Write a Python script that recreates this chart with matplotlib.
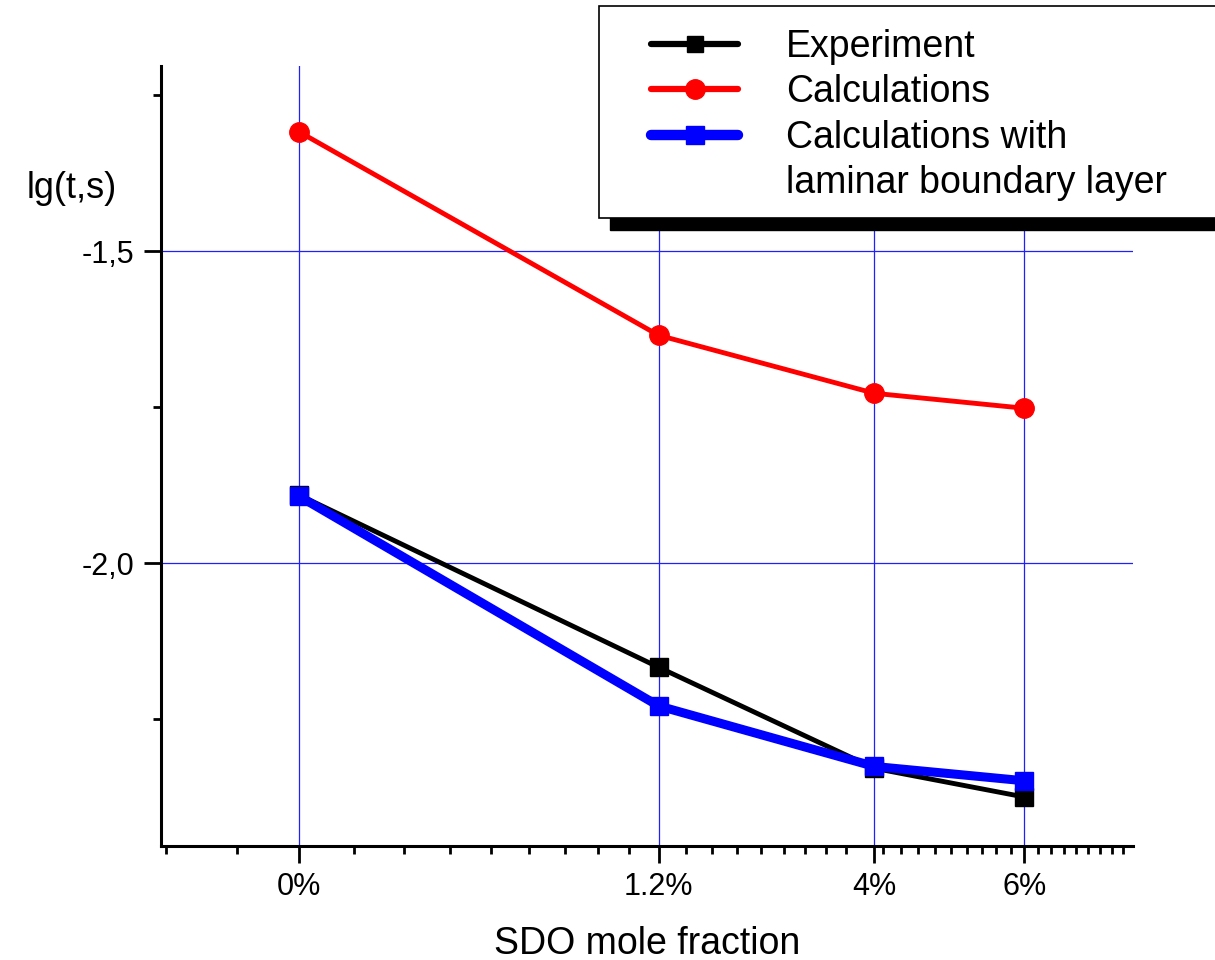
import matplotlib.pyplot as plt
import numpy as np
from matplotlib.patches import Rectangle
from matplotlib.lines import Line2D
from matplotlib.ticker import FixedLocator, NullFormatter, MultipleLocator

plt.rcParams['font.family'] = ['Liberation Sans', 'DejaVu Sans']

# categories on the x axis and their positions on the (log-like) axis
labels = ['0%', '1.2%', '4%', '6%']
x_pos = [8.5, 17.5, 27.0, 36.5]

# lg(t, s) values
experiment = [-1.891, -2.167, -2.329, -2.375]
calculations = [-1.309, -1.635, -1.728, -1.752]
laminar = [-1.893, -2.229, -2.326, -2.349]

fig = plt.figure(figsize=(12.15, 9.6), dpi=100)
ax = fig.add_axes([161/1215, 1-846/960, 972/1215, 780/960])

ax.plot(x_pos, calculations, color='red', lw=3.5, marker='o', ms=14,
        solid_capstyle='round', zorder=3)
ax.plot(x_pos, experiment, color='black', lw=3.5, marker='s', ms=13,
        solid_capstyle='round', zorder=4)
ax.plot(x_pos, laminar, color='blue', lw=6.5, marker='s', ms=13,
        solid_capstyle='round', zorder=5)

ax.set_xscale('log')
ax.set_xlim(6.44, 45.4)
ax.set_ylim(-2.4535, -1.2035)

ax.xaxis.set_major_locator(FixedLocator(x_pos))
ax.set_xticklabels(labels)
minors = np.arange(6.5, 45, 1.0)
minors = np.delete(minors, [np.abs(minors - p).argmin() for p in x_pos])
ax.xaxis.set_minor_locator(FixedLocator(minors))
ax.xaxis.set_minor_formatter(NullFormatter())

ax.yaxis.set_major_locator(MultipleLocator(0.5))
ax.yaxis.set_minor_locator(MultipleLocator(0.25))
ax.yaxis.set_major_formatter(lambda v, p: f'{v:.1f}'.replace('.', ','))

ax.grid(True, which='major', color='#2020ff', lw=0.9)
ax.set_axisbelow(True)

for s in ['top', 'right']:
    ax.spines[s].set_visible(False)
for s in ['left', 'bottom']:
    ax.spines[s].set_linewidth(2.2)

ax.tick_params(which='major', direction='out', length=12, width=2,
               labelsize=22, pad=7)
ax.tick_params(which='minor', direction='out', length=6, width=2)

ax.set_xlabel('SDO mole fraction', fontsize=27, labelpad=17)
fig.text(27/1215, 1-188/960, 'lg(t,s)', fontsize=26, ha='left', va='center')

# legend frame with black shadow
shadow = Rectangle((610/1215, 1-230/960), 700/1215, 212/960,
                   transform=fig.transFigure, facecolor='black',
                   edgecolor='black', zorder=5)
frame = Rectangle((599/1215, 1-218/960), 700/1215, 212/960,
                  transform=fig.transFigure, facecolor='white',
                  edgecolor='black', lw=1.2, zorder=6)
fig.add_artist(shadow)
fig.add_artist(frame)

handles = [
    Line2D([], [], color='black', lw=4.5, marker='s', ms=12, solid_capstyle='round'),
    Line2D([], [], color='red', lw=4.5, marker='o', ms=14, solid_capstyle='round'),
    Line2D([], [], color='blue', lw=7.5, marker='s', ms=13, solid_capstyle='round'),
    Line2D([], [], color='none'),
]
names = ['Experiment', 'Calculations', 'Calculations with', 'laminar boundary layer']
leg = fig.legend(handles, names, loc='upper left', bbox_to_anchor=(651/1215, 1-29/960),
                 bbox_transform=fig.transFigure, frameon=False, fontsize=27,
                 handlelength=2.32, handletextpad=1.28, labelspacing=0.25,
                 borderpad=0, borderaxespad=0)
leg.set_zorder(10)

plt.savefig('out.png', dpi=100)
